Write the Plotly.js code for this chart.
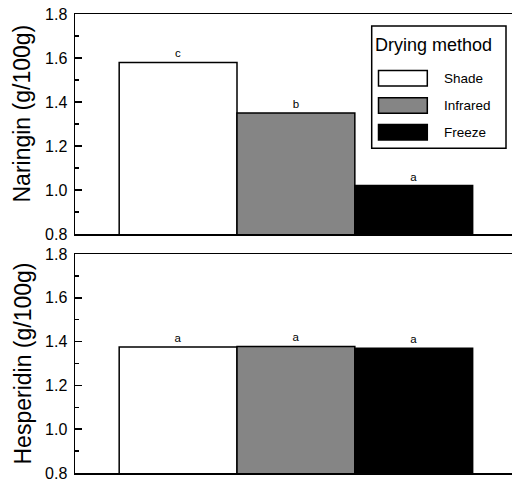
<!DOCTYPE html>
<html>
<head>
<meta charset="utf-8">
<script src="https://cdn.plot.ly/plotly-3.0.1.min.js"></script>
<style>
html,body{margin:0;padding:0;background:#fff;}
#chart{width:512px;height:482px;}
</style>
</head>
<body>
<div id="chart"></div>
<script>
// ---- data ----
const categories = ['Shade', 'Infrared', 'Freeze'];
const naringin = [1.58, 1.35, 1.02];
const hesperidin = [1.375, 1.378, 1.37];
const naringinLetters = ['c', 'b', 'a'];
const hesperidinLetters = ['a', 'a', 'a'];
const barColors = ['#ffffff', '#858585', '#000000'];
const yTickVals = [0.8, 1.0, 1.2, 1.4, 1.6, 1.8];
const legendTitle = 'Drying method';
const yTitles = ['Naringin (g/100g)', 'Hesperidin (g/100g)'];

// ---- layout helpers (pixel -> paper) ----
const W = 512, H = 482;
const M = {l: 75, r: 0, t: 14, b: 9};
const PW = W - M.l - M.r, PH = H - M.t - M.b;
const px = v => (v - M.l) / PW;
const py = v => (H - M.b - v) / PH;

const FONT = 'Arial, "Liberation Sans", sans-serif';

function barTrace(vals, letters, xa, ya) {
  const blk = letters.map(() => '#000000');
  return {
    type: 'bar',
    x: categories,
    y: vals,
    text: letters,
    textposition: 'outside',
    textfont: {family: FONT, size: 11.5, color: blk},
    outsidetextfont: {family: FONT, size: 11.5, color: blk},
    cliponaxis: false,
    xaxis: xa, yaxis: ya,
    width: 1,
    marker: {color: barColors, line: {color: '#000', width: 1.5}},
    showlegend: false,
    hoverinfo: 'x+y'
  };
}

const data = [
  barTrace(naringin, naringinLetters, 'x', 'y'),
  barTrace(hesperidin, hesperidinLetters, 'x2', 'y2')
];

const xRange = [-0.875, 2.834];
function xAxis(anchor) {
  return {
    type: 'category', range: xRange, domain: [0, 1], anchor: anchor,
    showline: true, linecolor: '#000', linewidth: 1.5, mirror: true,
    showticklabels: false, ticks: '', showgrid: false, zeroline: false
  };
}
function yAxis(domain, anchor) {
  return {
    range: [0.8, 1.8], domain: domain, anchor: anchor,
    tickvals: yTickVals, tickformat: '.1f',
    ticks: 'inside', ticklen: 7, tickwidth: 1.5, tickcolor: '#000',
    minor: {dtick: 0.1, ticks: 'inside', ticklen: 4, tickwidth: 1.5, tickcolor: '#000', showgrid: false},
    showline: true, linecolor: '#000', linewidth: 1.5,
    showgrid: false, zeroline: false,
    tickfont: {family: FONT, size: 16, color: '#000'},
    ticklabelstandoff: 3
  };
}

// legend drawn manually (wide swatches)
const shapes = [{
  type: 'rect', xref: 'paper', yref: 'paper',
  x0: px(371.7), x1: px(506), y0: py(148.3), y1: py(26),
  line: {color: '#000', width: 1.5}, fillcolor: '#fff', layer: 'above'
}];
const annotations = [{
  xref: 'paper', yref: 'paper', x: px(433), y: py(45),
  text: legendTitle, showarrow: false, xanchor: 'center', yanchor: 'middle',
  font: {family: FONT, size: 18, color: '#000'}
}];
const rowY = [78.3, 105.5, 132.2];
categories.forEach((c, i) => {
  shapes.push({
    type: 'rect', xref: 'paper', yref: 'paper',
    x0: px(378.5), x1: px(427.3), y0: py(rowY[i] + 7.7), y1: py(rowY[i] - 7.7),
    line: {color: '#000', width: 1.5}, fillcolor: barColors[i], layer: 'above'
  });
  annotations.push({
    xref: 'paper', yref: 'paper', x: px(441.5), y: py(rowY[i]),
    text: c, showarrow: false, xanchor: 'left', yanchor: 'middle',
    font: {family: FONT, size: 13.5, color: '#000'}
  });
});
// y-axis titles
const titleY = [113.5, 363.5];
yTitles.forEach((t, i) => {
  annotations.push({
    xref: 'paper', yref: 'paper', x: px(22), y: py(titleY[i]),
    text: t, showarrow: false, textangle: -90, xanchor: 'center', yanchor: 'middle',
    font: {family: FONT, size: 23, color: '#000'}
  });
});

const layout = {
  width: W, height: H,
  margin: M,
  paper_bgcolor: '#fff', plot_bgcolor: '#fff',
  bargap: 0,
  showlegend: false,
  xaxis: xAxis('y'),
  yaxis: yAxis([py(234), 1], 'x'),
  xaxis2: xAxis('y2'),
  yaxis2: yAxis([0, py(254)], 'x2'),
  shapes: shapes,
  annotations: annotations,
  font: {family: FONT, color: '#000'}
};

Plotly.newPlot('chart', data, layout, {displayModeBar: false, staticPlot: true});
</script>
</body>
</html>
